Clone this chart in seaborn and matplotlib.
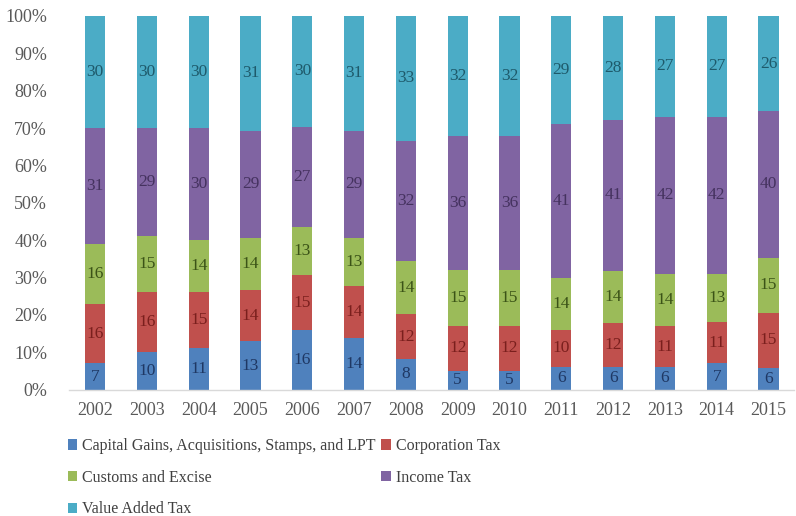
import numpy as np
import pandas as pd
import matplotlib
matplotlib.use("Agg")
import matplotlib.pyplot as plt
import seaborn as sns
from matplotlib.patches import Patch

years = ["2002", "2003", "2004", "2005", "2006", "2007", "2008",
         "2009", "2010", "2011", "2012", "2013", "2014", "2015"]
series_names = ["Capital Gains, Acquisitions, Stamps, and LPT", "Corporation Tax",
                "Customs and Excise", "Income Tax", "Value Added Tax"]
capital_gains = [7, 10, 11, 13, 16, 14, 8, 5, 5, 6, 6, 6, 7, 6]
corporation = [16, 16, 15, 14, 15, 14, 12, 12, 12, 10, 12, 11, 11, 15]
customs = [16, 15, 14, 14, 13, 13, 14, 15, 15, 14, 14, 14, 13, 15]
income = [31, 29, 30, 29, 27, 29, 32, 36, 36, 41, 41, 42, 42, 40]
vat = [30, 30, 30, 31, 30, 31, 33, 32, 32, 29, 28, 27, 27, 26]
y_ticks = [0, 10, 20, 30, 40, 50, 60, 70, 80, 90, 100]

colors = ["#4F81BD", "#C0504D", "#9BBB59", "#8064A2", "#4BACC6"]
label_colors = ["#1F3864", "#7A1F1D", "#3B5317", "#45325F", "#1E5A6B"]

sns.set_theme(style="white")
plt.rcParams["font.family"] = ["Liberation Serif", "DejaVu Serif"]

vals = np.array([capital_gains, corporation, customs, income, vat], dtype=float)
pct = vals / vals.sum(axis=0) * 100
cum = np.cumsum(pct, axis=0)

fig = plt.figure(figsize=(7.96, 5.16), dpi=100)
ax = fig.add_axes([0.087, 0.245, 0.911, 0.724])

for i in range(4, -1, -1):
    df = pd.DataFrame({"year": years, "v": cum[i]})
    sns.barplot(data=df, x="year", y="v", order=years, color=colors[i],
                width=0.39, saturation=1, ax=ax, linewidth=0, errorbar=None)

for i in range(5):
    for j in range(len(years)):
        mid = cum[i, j] - pct[i, j] / 2
        ax.text(j, mid, f"{int(vals[i, j])}", ha="center", va="center",
                fontsize=12.5, color=label_colors[i])

ax.set_xlim(-0.5, len(years) - 0.5)
ax.set_ylim(0, 100)
ax.set_yticks(y_ticks)
ax.set_yticklabels([f"{t}%" for t in y_ticks])
ax.set_xlabel("")
ax.set_ylabel("")
ax.tick_params(axis="both", length=0, labelsize=13, colors="#595959")
ax.tick_params(axis="x", pad=9)
ax.tick_params(axis="y", pad=16)
for s in ["top", "right", "left"]:
    ax.spines[s].set_visible(False)
ax.spines["bottom"].set_color("#D9D9D9")
ax.spines["bottom"].set_linewidth(1.0)

handles = [Patch(facecolor=c, edgecolor="none") for c in colors]
order = [0, 2, 4, 1, 3]
fig.legend([handles[k] for k in order], [series_names[k] for k in order],
           ncol=2, loc="upper left", bbox_to_anchor=(0.085, 0.151),
           frameon=False, fontsize=11.5, handlelength=0.6, handleheight=0.6,
           handletextpad=0.3, columnspacing=0.35, labelspacing=0.98,
           labelcolor="#404040", borderaxespad=0, borderpad=0)

fig.savefig("out.png", dpi=100)
